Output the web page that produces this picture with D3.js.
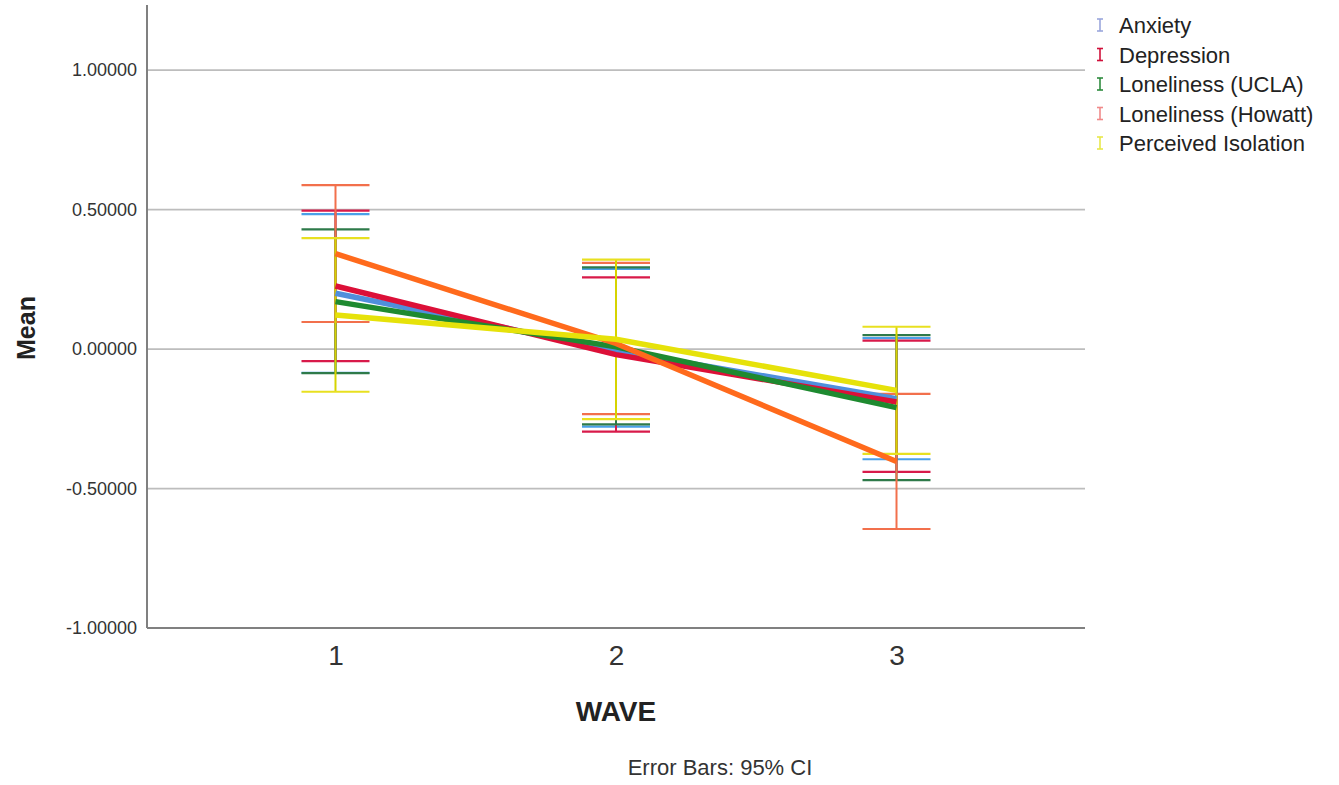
<!DOCTYPE html>
<html>
<head>
<meta charset="utf-8">
<script src="https://cdn.jsdelivr.net/npm/d3@7"></script>
<style>
  body { margin: 0; background: #fff; }
  text { font-family: "Liberation Sans", Arial, sans-serif; }
</style>
</head>
<body>
<div id="chart"></div>
<script>
// data
var waves = [1, 2, 3];
var seriesNames = ["Anxiety", "Depression", "Loneliness (UCLA)", "Loneliness (Howatt)", "Perceived Isolation"];
var anxietyMean = [0.200, -0.005, -0.178];
var anxietyLow  = [-0.085, -0.278, -0.395];
var anxietyHigh = [0.484, 0.287, 0.039];
var depressionMean = [0.226, -0.020, -0.190];
var depressionLow  = [-0.043, -0.296, -0.440];
var depressionHigh = [0.496, 0.257, 0.030];
var uclaMean = [0.170, 0.008, -0.210];
var uclaLow  = [-0.086, -0.270, -0.470];
var uclaHigh = [0.429, 0.293, 0.050];
var howattMean = [0.342, 0.020, -0.403];
var howattLow  = [0.097, -0.233, -0.645];
var howattHigh = [0.588, 0.309, -0.161];
var isolationMean = [0.122, 0.035, -0.148];
var isolationLow  = [-0.153, -0.251, -0.376];
var isolationHigh = [0.398, 0.321, 0.080];
var yTicks = [1, 0.5, 0, -0.5, -1];

var lineColors = ["#4f8fdc", "#dc1038", "#1e8a30", "#ff6a1c", "#e6e20a"];
var capColors  = ["#4aa0e8", "#d81a4a", "#2e7a4a", "#f2704c", "#e8e020"];
var legendColors = ["#9aa6dc", "#d0103a", "#2e8b3e", "#f08a8a", "#e8e84a"];

var series = [
  {name: seriesNames[0], mean: anxietyMean, low: anxietyLow, high: anxietyHigh},
  {name: seriesNames[1], mean: depressionMean, low: depressionLow, high: depressionHigh},
  {name: seriesNames[2], mean: uclaMean, low: uclaLow, high: uclaHigh},
  {name: seriesNames[3], mean: howattMean, low: howattLow, high: howattHigh},
  {name: seriesNames[4], mean: isolationMean, low: isolationLow, high: isolationHigh}
];
series.forEach(function(s, i) { s.i = i; });

var W = 1339, H = 785;
var plotLeft = 147, plotRight = 1085, plotTop = 5, plotBottom = 628;

var svg = d3.select("#chart").append("svg")
  .attr("width", W).attr("height", H);

var x = d3.scaleLinear().domain([0.328, 3.672]).range([plotLeft, plotRight]);
var y = d3.scaleLinear().domain([-1, 1.2335]).range([plotBottom, plotTop]);

// gridlines
svg.append("g").selectAll("line")
  .data(yTicks.filter(function(d) { return d > -1; }))
  .enter().append("line")
    .attr("x1", plotLeft).attr("x2", plotRight)
    .attr("y1", function(d) { return y(d); })
    .attr("y2", function(d) { return y(d); })
    .style("stroke", "#bdbdbd")
    .style("stroke-width", 1.8);

// y axis
var yAxis = svg.append("g")
  .attr("transform", "translate(" + plotLeft + ",0)")
  .call(d3.axisLeft(y).tickValues(yTicks).tickSize(0).tickPadding(10)
    .tickFormat(function(d) { return d3.format(".5f")(d).replace("−", "-"); }));
yAxis.select(".domain").remove();
yAxis.selectAll("text").style("font-size", "18px").style("fill", "#333");

// x axis
var xAxis = svg.append("g")
  .attr("transform", "translate(0," + plotBottom + ")")
  .call(d3.axisBottom(x).tickValues(waves).tickSize(0).tickPadding(17)
    .tickFormat(d3.format("d")));
xAxis.select(".domain").remove();
xAxis.selectAll("text").style("font-size", "28px").style("fill", "#333");

// axis lines
svg.append("line").attr("x1", plotLeft).attr("x2", plotLeft).attr("y1", plotTop).attr("y2", plotBottom)
  .style("stroke", "#808080").style("stroke-width", 2);
svg.append("line").attr("x1", plotLeft).attr("x2", plotRight).attr("y1", plotBottom).attr("y2", plotBottom)
  .style("stroke", "#808080").style("stroke-width", 2);

// error bars
var capHalf = 34;
series.forEach(function(s) {
  var g = svg.append("g");
  waves.forEach(function(w, j) {
    g.append("line")
      .attr("x1", x(w)).attr("x2", x(w))
      .attr("y1", y(s.high[j])).attr("y2", y(s.low[j]))
      .style("stroke", s.i === 4 ? "#d6d400" : capColors[s.i]).style("stroke-width", 2);
    [s.high[j], s.low[j]].forEach(function(v) {
      g.append("line")
        .attr("x1", x(w) - capHalf).attr("x2", x(w) + capHalf)
        .attr("y1", y(v)).attr("y2", y(v))
        .style("stroke", capColors[s.i]).style("stroke-width", 2.2);
    });
  });
});

// mean lines
var line = d3.line()
  .x(function(d, j) { return x(waves[j]); })
  .y(function(d) { return y(d); });
series.forEach(function(s) {
  svg.append("path")
    .datum(s.mean)
    .attr("d", line)
    .style("fill", "none")
    .style("stroke", lineColors[s.i])
    .style("stroke-width", 5.5);
});

// axis titles
svg.append("text")
  .attr("transform", "translate(35,328) rotate(-90)")
  .attr("text-anchor", "middle")
  .style("font-size", "25px").style("font-weight", "bold").style("fill", "#222")
  .text("Mean");
svg.append("text")
  .attr("x", x(2)).attr("y", 721)
  .attr("text-anchor", "middle")
  .style("font-size", "28px").style("font-weight", "bold").style("fill", "#222")
  .text("WAVE");
svg.append("text")
  .attr("x", 720).attr("y", 775)
  .attr("text-anchor", "middle")
  .style("font-size", "22px").style("fill", "#333")
  .text("Error Bars: 95% CI");

// legend
var legend = svg.append("g").attr("transform", "translate(1100,25)");
series.forEach(function(s) {
  var r = legend.append("g").attr("transform", "translate(0," + (s.i * 29.5) + ")");
  r.append("line").attr("x1", 0).attr("x2", 0).attr("y1", -6).attr("y2", 6)
    .style("stroke", legendColors[s.i]).style("stroke-width", 1.6);
  r.append("line").attr("x1", -3).attr("x2", 3).attr("y1", -6).attr("y2", -6)
    .style("stroke", legendColors[s.i]).style("stroke-width", 1.6);
  r.append("line").attr("x1", -3).attr("x2", 3).attr("y1", 6).attr("y2", 6)
    .style("stroke", legendColors[s.i]).style("stroke-width", 1.6);
  r.append("text").attr("x", 19).attr("y", 8)
    .style("font-size", "22px").style("fill", "#222")
    .text(s.name);
});
</script>
</body>
</html>
